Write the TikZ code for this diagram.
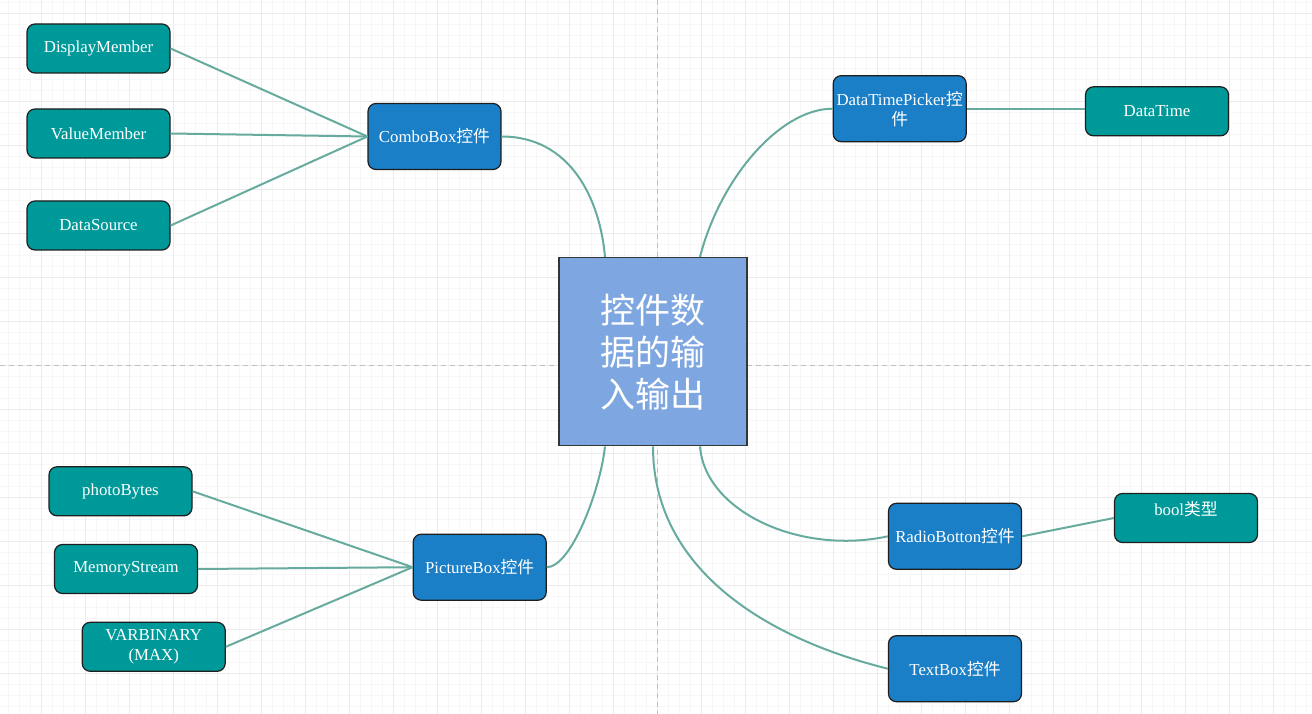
\documentclass[tikz,border=0pt]{standalone}
\usepackage{fontspec}
\setmainfont{Liberation Serif}
\newfontfamily\cjk{Noto Sans CJK SC}
\definecolor{leafteal}{HTML}{009999}
\definecolor{ctrlblue}{HTML}{1B7FC7}
\definecolor{hubblue}{HTML}{7EA6E0}
\definecolor{linkgreen}{HTML}{67AB9F}
\definecolor{nodeline}{HTML}{1E1E1E}
\begin{document}
\begin{tikzpicture}[x=1pt,y=-1pt,
  leaf/.style={draw=nodeline, fill=leafteal, rounded corners=8pt, line width=1.2pt,
    minimum width=143pt, minimum height=49pt, inner sep=2pt, text=white, align=center,
    font=\fontsize{16.8}{20}\selectfont},
  ctrl/.style={leaf, fill=ctrlblue, minimum width=133pt, minimum height=66pt},
  hub/.style={draw=nodeline!90, fill=hubblue, line width=1.5pt, minimum width=188pt,
    minimum height=188pt, text=white, align=center, font=\cjk\fontsize{35}{42}\selectfont},
  link/.style={draw=linkgreen, line width=2pt},
  gridminor/.style={draw=black!3, line width=0.8pt},
  gridmajor/.style={draw=black!8, line width=1pt},
  centerdash/.style={draw=black!25, line width=1.2pt, dash pattern=on 5pt off 4pt}]
\useasboundingbox (0,0) rectangle (1312,714);
\fill[white] (0,0) rectangle (1312,714);
% background grid
\foreach \i in {0,...,118} \draw[gridminor] ({8.3+11*\i},0) -- ++(0,714);
\foreach \j in {0,...,64} \draw[gridminor] (0,{2.3+11*\j}) -- ++(1312,0);
\foreach \i in {0,...,29} \draw[gridmajor] ({41.3+44*\i},0) -- ++(0,714);
\foreach \j in {0,...,16} \draw[gridmajor] (0,{13.3+44*\j}) -- ++(1312,0);
\draw[centerdash] (657.3,0) -- (657.3,714);
\draw[centerdash] (0,365.3) -- (1312,365.3);

\node[hub] (hub) at (653,351.7) {控件数\\据的输\\入输出};

\node[ctrl] (combo) at (434.5,136.5) {ComboBox{\cjk 控件}};
\node[leaf] (dm) at (98.5,48.5) {DisplayMember};
\node[leaf] (vm) at (98.5,133.5) {ValueMember};
\node[leaf] (ds) at (98.5,225.5) {DataSource};

\node[ctrl] (dtp) at (899.7,108.7) {DataTimePicker{\cjk 控}\\{\cjk 件}};
\node[leaf] (dt) at (1157,111.3) {DataTime};

\node[ctrl] (pic) at (479.7,567.2) {PictureBox{\cjk 控件}};
\node[leaf] (pb) at (120.5,491.3) {photoBytes};
\node[leaf] (ms) at (126,569) {MemoryStream};
\node[leaf] (vb) at (153.7,646.8) {VARBINARY\\(MAX)};

\node[ctrl] (radio) at (955,536.3) {RadioBotton{\cjk 控件}};
\node[leaf] (bool) at (1186,518) {bool{\cjk 类型}\\\mbox{}};
\node[ctrl] (tb) at (955,668.7) {TextBox{\cjk 控件}};

\coordinate (hubNW) at ([xshift=-48pt]hub.north);
\coordinate (hubNE) at ([xshift=47pt]hub.north);
\coordinate (hubSW) at ([xshift=-48pt]hub.south);
\coordinate (hubS) at (hub.south);
\coordinate (hubSE) at ([xshift=47pt]hub.south);

\draw[link] (combo.east) .. controls +(69,0) and +(-5,-57.7) .. (hubNW);
\draw[link] (hubNE) .. controls +(20,-78) and +(-53,0) .. (dtp.west);
\draw[link] (hubSW) .. controls +(-5,45) and +(24,0) .. (pic.east);
\draw[link] (hubSE) .. controls +(5,65) and +(-88,19) .. (radio.west);
\draw[link] (hubS) .. controls +(0,125) and +(-118,-29) .. (tb.west);

\draw[link] (dm.east) -- (combo.west);
\draw[link] (vm.east) -- (combo.west);
\draw[link] (ds.east) -- (combo.west);
\draw[link] (dtp.east) -- (dtp.east -| dt.west);
\draw[link] (pb.east) -- (pic.west);
\draw[link] (ms.east) -- (pic.west);
\draw[link] (vb.east) -- (pic.west);
\draw[link] (radio.east) -- (bool.west);
\end{tikzpicture}
\end{document}
